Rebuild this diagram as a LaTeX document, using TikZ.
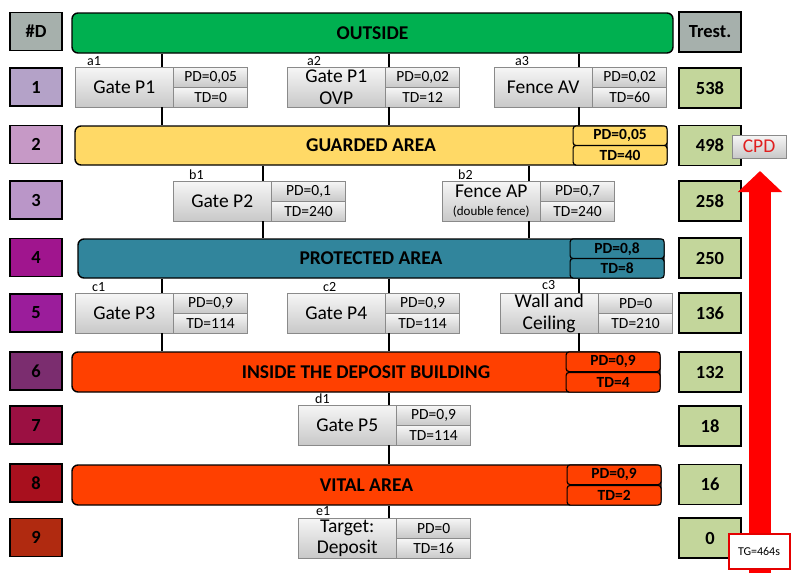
\documentclass[tikz,border=0pt]{standalone}
\usepackage{fontspec}
\setmainfont{Carlito}
\usetikzlibrary{positioning,arrows.meta}
\definecolor{HashClr}{HTML}{A6B0AC}
\definecolor{EstClr}{HTML}{C3D69B}
\definecolor{LvOne}{HTML}{B4A2C8}
\definecolor{LvTwo}{HTML}{C699C6}
\definecolor{LvThree}{HTML}{BA96C8}
\definecolor{LvFour}{HTML}{A0158E}
\definecolor{LvFive}{HTML}{9B1D9B}
\definecolor{LvSix}{HTML}{7B2D6F}
\definecolor{LvSeven}{HTML}{9B1042}
\definecolor{LvEight}{HTML}{A8101E}
\definecolor{LvNine}{HTML}{B02A10}
\definecolor{OutClr}{HTML}{00B050}
\definecolor{GuardClr}{HTML}{FFD966}
\definecolor{ProtClr}{HTML}{31859C}
\definecolor{InClr}{HTML}{FF4000}
\definecolor{GateTop}{HTML}{F6F6F6}
\definecolor{GateBot}{HTML}{C8C8C8}
\definecolor{GateLine}{HTML}{8A8A8A}
\definecolor{CpdClr}{HTML}{E02020}

\begin{document}
\begin{tikzpicture}[x=1pt,y=-1pt,
  lvl/.style={draw,line width=1.4pt,minimum width=52pt,minimum height=38pt,inner sep=0pt,
    font=\fontsize{18.5}{20}\selectfont\bfseries},
  est/.style={lvl,fill=EstClr,minimum width=62pt,minimum height=40pt},
  area/.style={draw,line width=1.4pt,rounded corners=6pt,inner sep=0pt,
    font=\fontsize{19.5}{21}\selectfont\bfseries},
  sub/.style={draw,line width=1.2pt,rounded corners=3pt,minimum width=94pt,minimum height=19.7pt,
    inner sep=0pt,font=\fontsize{15.5}{17}\selectfont\bfseries},
  gate/.style={draw=GateLine,top color=GateTop,bottom color=GateBot,minimum width=98pt,
    minimum height=40pt,inner sep=0pt,align=center,anchor=north west,
    font=\fontsize{19.5}{21.5}\selectfont},
  val/.style={gate,minimum width=74pt,minimum height=20pt,font=\fontsize{15.5}{17}\selectfont},
  lbl/.style={anchor=base west,inner sep=0pt,font=\fontsize{14}{15}\selectfont},
  conn/.style={line width=1.5pt}]
\useasboundingbox (0,0) rectangle (800,584);

\node[lvl,fill=HashClr] (lv0) at (36,31.5) {\#D};
\node[lvl,fill=LvOne] (lv1) at (36,87) {1};
\node[lvl,fill=LvTwo] (lv2) at (36,144.5) {2};
\node[lvl,fill=LvThree] (lv3) at (36,200) {3};
\node[lvl,fill=LvFour] (lv4) at (36,257.5) {4};
\node[lvl,fill=LvFive] (lv5) at (36,313) {5};
\node[lvl,fill=LvSix] (lv6) at (36,371) {6};
\node[lvl,fill=LvSeven] (lv7) at (36,425) {7};
\node[lvl,fill=LvEight] (lv8) at (36,483) {8};
\node[lvl,fill=LvNine] (lv9) at (36,537.5) {9};

\node[est,fill=HashClr] (est0) at (710,32) {Trest.};
\node[est] (est1) at (710,88) {538};
\node[est] (est2) at (710,145.5) {498};
\node[est] (est3) at (710,201) {258};
\node[est] (est4) at (710,258) {250};
\node[est] (est5) at (710,313) {136};
\node[est] (est6) at (710,372) {132};
\node[est] (est7) at (710,426) {18};
\node[est] (est8) at (710,484.5) {16};
\node[est] (est9) at (710,538) {0};

\node[area,fill=OutClr,minimum width=601pt,minimum height=40pt] (outside) at (372.5,33) {OUTSIDE};
\node[area,fill=GuardClr,minimum width=592pt,minimum height=39pt] (guarded) at (371,145.5) {GUARDED AREA};
\node[sub,fill=GuardClr,anchor=north east] (guardedpd) at (guarded.north east) {PD=0,05};
\node[sub,fill=GuardClr,anchor=south east] (guardedtd) at (guarded.south east) {TD=40};
\node[area,fill=ProtClr,minimum width=586pt,minimum height=39pt] (protected) at (371,258.5) {PROTECTED AREA};
\node[sub,fill=ProtClr,anchor=north east] (protectedpd) at (protected.north east) {PD=0,8};
\node[sub,fill=ProtClr,anchor=south east] (protectedtd) at (protected.south east) {TD=8};
\node[area,fill=InClr,minimum width=588pt,minimum height=40pt] (inside) at (366,372) {INSIDE THE DEPOSIT BUILDING};
\node[sub,fill=InClr,anchor=north east] (insidepd) at (inside.north east) {PD=0,9};
\node[sub,fill=InClr,anchor=south east] (insidetd) at (inside.south east) {TD=4};
\node[area,fill=InClr,minimum width=589pt,minimum height=40pt] (vital) at (366.5,485) {VITAL AREA};
\node[sub,fill=InClr,anchor=north east] (vitalpd) at (vital.north east) {PD=0,9};
\node[sub,fill=InClr,anchor=south east] (vitaltd) at (vital.south east) {TD=2};

\node[gate] (a1) at (75,67) {Gate P1};
\node[val] (a1pd) at (a1.north east) {PD=0,05};
\node[val] (a1td) at (a1pd.south west) {TD=0};
\node[lbl] (a1lbl) at (87,65) {a1};
\node[gate] (a2) at (287,67) {Gate P1\\OVP};
\node[val] (a2pd) at (a2.north east) {PD=0,02};
\node[val] (a2td) at (a2pd.south west) {TD=12};
\node[lbl] (a2lbl) at (307,65) {a2};
\node[gate] (a3) at (494,67) {Fence AV};
\node[val] (a3pd) at (a3.north east) {PD=0,02};
\node[val] (a3td) at (a3pd.south west) {TD=60};
\node[lbl] (a3lbl) at (515,65) {a3};

\node[gate] (b1) at (173,181) {Gate P2};
\node[val] (b1pd) at (b1.north east) {PD=0,1};
\node[val] (b1td) at (b1pd.south west) {TD=240};
\node[lbl] (b1lbl) at (189,179) {b1};
\node[gate] (b2) at (442,181) {Fence AP\\[-3pt]{\fontsize{13}{14}\selectfont(double fence)}};
\node[val] (b2pd) at (b2.north east) {PD=0,7};
\node[val] (b2td) at (b2pd.south west) {TD=240};
\node[lbl] (b2lbl) at (458,179) {b2};

\node[gate] (c1) at (75,293) {Gate P3};
\node[val] (c1pd) at (c1.north east) {PD=0,9};
\node[val] (c1td) at (c1pd.south west) {TD=114};
\node[lbl] (c1lbl) at (92,291) {c1};
\node[gate] (c2) at (287,293) {Gate P4};
\node[val] (c2pd) at (c2.north east) {PD=0,9};
\node[val] (c2td) at (c2pd.south west) {TD=114};
\node[lbl] (c2lbl) at (323,291) {c2};
\node[gate] (c3) at (500,293) {Wall and\\Ceiling};
\node[val] (c3pd) at (c3.north east) {PD=0};
\node[val] (c3td) at (c3pd.south west) {TD=210};
\node[lbl] (c3lbl) at (542,289) {c3};

\node[gate] (d1) at (298,405) {Gate P5};
\node[val] (d1pd) at (d1.north east) {PD=0,9};
\node[val] (d1td) at (d1pd.south west) {TD=114};
\node[lbl] (d1lbl) at (315,403) {d1};

\node[gate] (e1) at (298,518) {Target:\\Deposit};
\node[val] (e1pd) at (e1.north east) {PD=0};
\node[val] (e1td) at (e1pd.south west) {TD=16};
\node[lbl] (e1lbl) at (316,515) {e1};

\coordinate (xl) at (162,0);
\coordinate (xm) at (389,0);
\coordinate (xr) at (579,0);
\coordinate (xb1) at (263,0);
\coordinate (xb2) at (529,0);

\draw[conn] (outside.south -| xl) -- (a1.north -| xl) (a1.south -| xl) -- (guarded.north -| xl);
\draw[conn] (outside.south -| xm) -- (a2.north -| xm) (a2.south -| xm) -- (guarded.north -| xm);
\draw[conn] (outside.south -| xr) -- (a3.north -| xr) (a3.south -| xr) -- (guarded.north -| xr);
\draw[conn] (guarded.south -| xb1) -- (b1.north -| xb1) (b1.south -| xb1) -- (protected.north -| xb1);
\draw[conn] (guarded.south -| xb2) -- (b2.north -| xb2) (b2.south -| xb2) -- (protected.north -| xb2);
\draw[conn] (protected.south -| xl) -- (c1.north -| xl) (c1.south -| xl) -- (inside.north -| xl);
\draw[conn] (protected.south -| xm) -- (c2.north -| xm) (c2.south -| xm) -- (inside.north -| xm);
\draw[conn] (protected.south -| xr) -- (c3.north -| xr) (c3.south -| xr) -- (inside.north -| xr);
\draw[conn] (inside.south -| xm) -- (d1.north -| xm) (d1.south -| xm) -- (vital.north -| xm);
\draw[conn] (vital.south -| xm) -- (e1.north -| xm);

\coordinate (arrbot) at (760,573);
\coordinate (arrtip) at (760,171);
\draw[red,line width=22pt,-{Triangle[width=43pt,length=21pt]}] (arrbot) -- (arrtip);

\node[draw=red!90!black,line width=2pt,fill=white,minimum width=61pt,minimum height=35pt,inner sep=0pt,
  font=\fontsize{12}{13}\selectfont] (tg) at (759,551) {TG=464s};
\node[draw=GateLine,top color=GateTop,bottom color=GateBot,minimum width=54pt,minimum height=23pt,inner sep=0pt,
  text=CpdClr,font=\fontsize{19.5}{20}\selectfont] (cpd) at (759,146.5) {CPD};

\end{tikzpicture}
\end{document}
